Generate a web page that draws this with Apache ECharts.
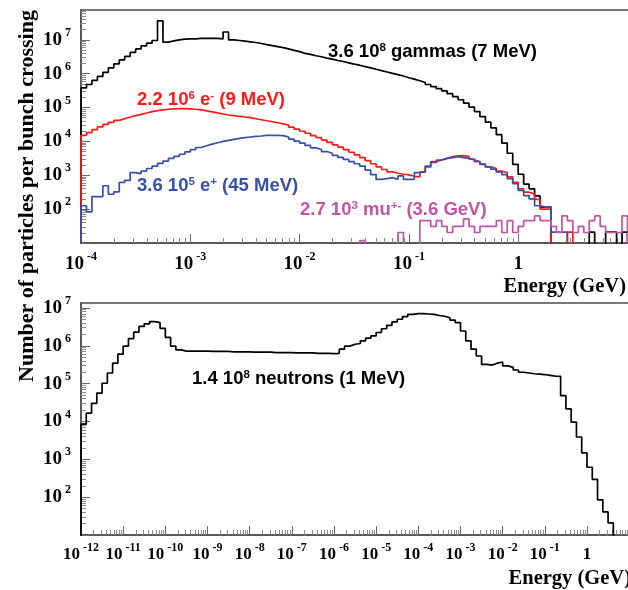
<!DOCTYPE html>
<html>
<head>
<meta charset="utf-8">
<script src="https://cdn.jsdelivr.net/npm/echarts@6/dist/echarts.min.js"></script>
<style>html,body{margin:0;padding:0;background:#fff}#c{width:628px;height:590px}</style>
</head>
<body>
<div id="c"></div>
<script>
// ---------------- DATA (histogram contents, log10 of particles per bin) ----------------
// Top panel: 100 logarithmic bins, 20 per decade, from 1e-4 GeV
const topBinLowExp = -4;
const topBinWidthExp = 0.05;
// Bottom panel: 104 logarithmic bins, 8 per decade, from 1e-12 GeV
const botBinLowExp = -12;
const botBinWidthExp = 0.125;

const gammasLog10 = [
  5.58,5.68,5.80,5.92,6.04,6.17,6.29,6.41,6.51,6.63,
  6.73,6.82,6.90,6.98,7.56,6.93,6.97,7.00,7.02,7.03,
  7.03,7.04,7.04,7.04,7.04,7.03,7.23,7.00,6.98,6.96,
  6.94,6.92,6.89,6.86,6.83,6.80,6.77,6.73,6.69,6.65,
  6.60,6.57,6.53,6.50,6.46,6.43,6.39,6.36,6.32,6.28,
  6.25,6.21,6.17,6.13,6.09,6.05,6.01,5.97,5.93,5.88,
  5.84,5.79,5.74,5.68,5.62,5.56,5.49,5.41,5.32,5.23,
  5.13,5.01,4.88,4.73,4.57,4.40,4.20,3.95,3.65,3.32,
  3.03,2.74,2.60,2.39,2.06,2.06,0,0,0,0,
  0,0,0,1.32,0,0,1.32,1.32,0,1.32
];
const electronsLog10 = [
  4.18,4.26,4.35,4.43,4.50,4.56,4.62,4.67,4.72,4.76,
  4.80,4.84,4.88,4.91,4.93,4.95,4.96,4.97,4.97,4.96,
  4.95,4.93,4.90,4.87,4.84,4.81,4.78,4.76,4.74,4.72,
  4.70,4.67,4.64,4.61,4.58,4.55,4.52,4.48,4.42,4.36,
  4.30,4.24,4.17,4.11,4.04,3.97,3.90,3.83,3.76,3.68,
  3.60,3.52,3.43,3.34,3.25,3.17,3.10,3.06,3.03,3.01,
  2.97,2.95,3.10,3.25,3.38,3.45,3.50,3.55,3.57,3.58,
  3.55,3.48,3.40,3.33,3.25,3.20,3.12,3.08,2.95,2.79,
  2.60,2.50,2.45,2.29,2.00,2.00,0,0,0,1.32,
  0,0,0,0,0,0,0,0,0,0
];
const positronsLog10 = [
  2.10,1.92,2.37,2.37,2.69,2.44,2.51,2.79,2.85,3.08,
  3.05,3.12,3.20,3.27,3.35,3.42,3.50,3.56,3.62,3.69,
  3.76,3.82,3.87,3.92,3.96,4.00,4.03,4.06,4.09,4.11,
  4.13,4.15,4.16,4.18,4.18,4.18,4.17,4.13,4.07,4.01,
  3.95,3.88,3.81,3.76,3.70,3.65,3.59,3.53,3.47,3.40,
  3.34,3.27,3.15,3.02,2.88,2.90,2.93,2.88,2.98,2.88,
  2.88,3.08,3.10,3.27,3.40,3.45,3.50,3.52,3.55,3.52,
  3.50,3.45,3.40,3.32,3.25,3.18,3.10,3.02,2.90,2.75,
  2.55,2.40,2.30,2.10,2.06,2.06,1.32,1.32,1.32,0,
  0,0,0,0,0,0,0,0,0,0
];
const muonsLog10 = [
  0,0,0,0,0,0,0,0,0,0,
  0,0,0,0,0,0,0,0,0,0,
  0,0,0,0,0,0,0,0,0,0,
  0,0,0,0,0,0,0,0,0,0,
  0,0,0,0,0,0,0,0,0,0,
  0,1.07,0,0,0,0,0,0,1.31,0,
  0,0,1.66,1.66,1.49,1.66,1.49,1.31,1.49,1.49,
  1.71,1.49,1.31,1.49,1.49,1.49,1.66,1.31,1.66,1.31,
  1.49,1.66,1.66,1.80,1.66,1.66,1.49,1.31,1.80,1.66,
  1.31,1.49,1.31,1.66,1.80,1.49,1.31,1.31,1.31,1.80
];
const neutronsLog10 = [
  3.93,4.22,4.48,4.75,5.01,5.28,5.54,5.78,5.99,6.19,
  6.36,6.51,6.58,6.64,6.61,6.46,6.22,5.99,5.89,5.86,
  5.86,5.86,5.86,5.86,5.85,5.85,5.85,5.85,5.84,5.84,
  5.84,5.84,5.83,5.83,5.83,5.83,5.82,5.82,5.82,5.82,
  5.81,5.81,5.81,5.81,5.80,5.80,5.80,5.79,5.80,5.91,
  5.99,6.04,6.06,6.13,6.20,6.26,6.35,6.45,6.54,6.63,
  6.70,6.77,6.83,6.85,6.85,6.84,6.83,6.80,6.78,6.74,
  6.68,6.61,6.39,6.13,5.91,5.73,5.51,5.49,5.54,5.57,
  5.47,5.43,5.36,5.30,5.28,5.26,5.25,5.24,5.22,5.20,
  5.19,4.68,4.33,3.98,3.59,3.17,2.79,2.47,1.93,1.61,
  1.32,0,0,0
];

// tick label decades (exponents of 10)
const topXDecades = [-4, -3, -2, -1, 0];
const topYDecades = [2, 3, 4, 5, 6, 7];
const botXDecades = [-12, -11, -10, -9, -8, -7, -6, -5, -4, -3, -2, -1, 0];
const botYDecades = [2, 3, 4, 5, 6, 7];

// labels
const yTitle = 'Number of particles per bunch crossing';
const xTitle = 'Energy (GeV)';

// ---------------- helpers ----------------
const SERIF = '"Liberation Serif","Times New Roman",Times,serif';
const SANS = '"Liberation Sans",Arial,Helvetica,sans-serif';
const AXIS_COLOR = '#4d4d4d';
const TICK_COLOR = '#6a6a6a';
const FLOOR = 1; // empty bin -> below the axis minimum

function histPoints(lowExp, widthExp, vals) {
  const pts = [[Math.pow(10, lowExp), FLOOR]];
  for (let k = 0; k < vals.length; k++) {
    pts.push([Math.pow(10, lowExp + k * widthExp), vals[k] > 0 ? Math.pow(10, vals[k]) : FLOOR]);
  }
  pts.push([Math.pow(10, lowExp + vals.length * widthExp), FLOOR]);
  return pts;
}
function decadesToValues(d) { return d.map(e => Math.pow(10, e)); }
function minorValues(eFrom, eTo, maxVal) {
  const out = [];
  for (let e = eFrom; e <= eTo; e++) {
    for (let m = 2; m <= 9; m++) {
      const v = m * Math.pow(10, e);
      if (v < maxVal) out.push(v);
    }
  }
  return out;
}
function majorValues(eFrom, eTo) { const o = []; for (let e = eFrom; e <= eTo; e++) o.push(Math.pow(10, e)); return o; }
function expLabel(v) {
  const e = Math.round(Math.log10(v));
  return e === 0 ? '{b|1}' : '{b|10}{s|' + e + '}';
}
function axisRich(bSize, sSize) {
  return {
    b: { fontFamily: SERIF, fontWeight: 'bold', fontSize: bSize, lineHeight: 26, color: '#000' },
    s: { fontFamily: SERIF, fontWeight: 'bold', fontSize: sSize, lineHeight: 8, verticalAlign: 'top', padding: [0, 0, 0, 3], color: '#000' }
  };
}

const topXMin = 1e-4, topXMax = Math.pow(10, 1.023);
const topYMin = 10, topYMax = Math.pow(10, 7.88);
const botXMin = 1e-12, botXMax = Math.pow(10, 1.02);
const botYMin = 10, botYMax = Math.pow(10, 7.13);

function majorAxis(kind, gi, min, max, ticks, labels, margin, bSize, sSize) {
  return {
    type: 'log', logBase: 10, gridIndex: gi, min: min, max: max,
    position: kind === 'x' ? 'bottom' : 'left',
    axisLine: { show: true, onZero: false, lineStyle: { color: AXIS_COLOR, width: 1.5 } },
    axisTick: { show: true, inside: true, length: 9, customValues: ticks, lineStyle: { color: TICK_COLOR, width: 1 } },
    minorTick: { show: false },
    splitLine: { show: false },
    axisLabel: { show: true, customValues: labels, margin: margin, formatter: expLabel, rich: axisRich(bSize, sSize) }
  };
}
function minorAxis(kind, gi, min, max, ticks) {
  return {
    type: 'log', logBase: 10, gridIndex: gi, min: min, max: max,
    position: kind === 'x' ? 'bottom' : 'left',
    axisLine: { show: false, onZero: false },
    axisTick: { show: true, inside: true, length: 5, customValues: ticks, lineStyle: { color: '#8a8a8a', width: 1 } },
    minorTick: { show: false },
    splitLine: { show: false },
    axisLabel: { show: false }
  };
}

function histSeries(name, xi, yi, pts, color) {
  return {
    name: name, type: 'line', xAxisIndex: xi, yAxisIndex: yi, data: pts,
    step: 'end', showSymbol: false, symbol: 'none', clip: true, silent: true,
    lineStyle: { color: color, width: 1.7 }, itemStyle: { color: color }
  };
}

function annot(x, y, text, color) {
  return {
    type: 'text', x: x, y: y, z: 100, silent: true,
    style: {
      text: text, fill: color, fontFamily: SANS, fontWeight: 'bold', fontSize: 18.5, lineHeight: 20,
      align: 'left', verticalAlign: 'middle',
      rich: { s: { fontFamily: SANS, fontWeight: 'bold', fontSize: 11.5, lineHeight: 8, verticalAlign: 'top', fill: color } }
    }
  };
}

const chart = echarts.init(document.getElementById('c'), null, { renderer: 'canvas', width: 628, height: 590 });

const option = {
  animation: false,
  backgroundColor: '#fff',
  grid: [
    { left: 81, top: 10, width: 549, height: 233, show: true, borderColor: AXIS_COLOR, borderWidth: 1.5, backgroundColor: 'transparent', containLabel: false, outerBoundsMode: 'none' },
    { left: 81, top: 303, width: 549, height: 232, show: true, borderColor: AXIS_COLOR, borderWidth: 1.5, backgroundColor: 'transparent', containLabel: false, outerBoundsMode: 'none' }
  ],
  xAxis: [
    majorAxis('x', 0, topXMin, topXMax, majorValues(-4, 1), decadesToValues(topXDecades), 8, 19, 12),
    minorAxis('x', 0, topXMin, topXMax, minorValues(-4, 0, topXMax)),
    majorAxis('x', 1, botXMin, botXMax, majorValues(-12, 1), decadesToValues(botXDecades), 7, 17, 12),
    minorAxis('x', 1, botXMin, botXMax, minorValues(-12, 0, botXMax))
  ],
  yAxis: [
    majorAxis('y', 0, topYMin, topYMax, majorValues(1, 7), decadesToValues(topYDecades), 10, 19, 12),
    minorAxis('y', 0, topYMin, topYMax, minorValues(1, 7, topYMax)),
    majorAxis('y', 1, botYMin, botYMax, majorValues(1, 7), decadesToValues(botYDecades), 10, 19, 12),
    minorAxis('y', 1, botYMin, botYMax, minorValues(1, 7, botYMax))
  ],
  series: [
    histSeries('3.6 10^8 gammas (7 MeV)', 0, 0, histPoints(topBinLowExp, topBinWidthExp, gammasLog10), '#000000'),
    histSeries('2.2 10^6 e- (9 MeV)', 0, 0, histPoints(topBinLowExp, topBinWidthExp, electronsLog10), '#ff1a1a'),
    histSeries('3.6 10^5 e+ (45 MeV)', 0, 0, histPoints(topBinLowExp, topBinWidthExp, positronsLog10), '#3a4fa8'),
    histSeries('2.7 10^3 mu+- (3.6 GeV)', 0, 0, histPoints(topBinLowExp, topBinWidthExp, muonsLog10), '#c054a6'),
    histSeries('1.4 10^8 neutrons (1 MeV)', 2, 2, histPoints(botBinLowExp, botBinWidthExp, neutronsLog10), '#000000')
  ],
  graphic: [
    { type: 'text', x: 27, y: 196, rotation: Math.PI / 2, silent: true,
      style: { text: yTitle, fill: '#000', fontFamily: SERIF, fontWeight: 'bold', fontSize: 22, align: 'center', verticalAlign: 'middle' } },
    { type: 'text', x: 626, y: 287, silent: true,
      style: { text: xTitle, fill: '#000', fontFamily: SERIF, fontWeight: 'bold', fontSize: 20.5, align: 'right', verticalAlign: 'middle' } },
    { type: 'text', x: 631, y: 579, silent: true,
      style: { text: xTitle, fill: '#000', fontFamily: SERIF, fontWeight: 'bold', fontSize: 20.5, align: 'right', verticalAlign: 'middle' } },
    annot(328, 52, '3.6 10{s|8} gammas (7 MeV)', '#000000'),
    annot(137, 100, '2.2 10{s|6} e{s|-} (9 MeV)', '#ff1a1a'),
    annot(137, 186, '3.6 10{s|5} e{s|+} (45 MeV)', '#3a4fa8'),
    annot(300, 210, '2.7 10{s|3} mu{s|+-} (3.6 GeV)', '#c054a6'),
    annot(192, 379, '1.4 10{s|8} neutrons (1 MeV)', '#000000')
  ]
};
chart.setOption(option);
</script>
</body>
</html>
